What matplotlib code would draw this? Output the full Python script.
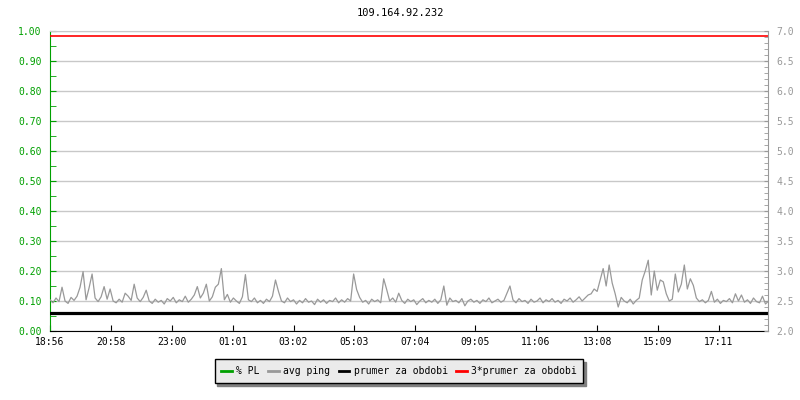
"""
ping graph for 109.164.92.232 - packet loss and avg ping over one day
"""

import matplotlib
matplotlib.use("Agg")
import matplotlib.pyplot as plt
from matplotlib.lines import Line2D
from matplotlib.ticker import MultipleLocator

# data
# --------------------------
host = "109.164.92.232"

# x tick labels (time of day), first one is the start of the window
time_labels = ["18:56", "20:58", "23:00", "01:01", "03:02", "05:03",
               "07:04", "09:05", "11:06", "13:08", "15:09", "17:11"]
window_minutes = 1433
step_minutes = 6

# avg ping [ms], one sample every 6 minutes
avg_ping = [
    2.52, 2.47, 2.55, 2.49, 2.73, 2.50, 2.46, 2.56, 2.51, 2.58,
    2.73, 2.99, 2.52, 2.72, 2.95, 2.55, 2.49, 2.57, 2.74, 2.53,
    2.70, 2.50, 2.47, 2.53, 2.48, 2.63, 2.58, 2.51, 2.78, 2.55,
    2.49, 2.56, 2.68, 2.50, 2.46, 2.53, 2.48, 2.51, 2.45, 2.54,
    2.50, 2.56, 2.47, 2.52, 2.49, 2.58, 2.48, 2.53, 2.60, 2.74,
    2.55, 2.63, 2.78, 2.50, 2.57, 2.73, 2.78, 3.04, 2.52, 2.61,
    2.48, 2.55, 2.50, 2.46, 2.57, 2.94, 2.52, 2.49, 2.55, 2.47,
    2.51, 2.46, 2.53, 2.49, 2.58, 2.85, 2.66, 2.50, 2.47, 2.55,
    2.49, 2.52, 2.45, 2.51, 2.47, 2.54, 2.48, 2.50, 2.44, 2.53,
    2.48, 2.52, 2.46, 2.51, 2.49, 2.55, 2.47, 2.52, 2.48, 2.54,
    2.50, 2.95, 2.69, 2.56, 2.48, 2.51, 2.45, 2.53, 2.49, 2.52,
    2.47, 2.87, 2.69, 2.50, 2.55, 2.48, 2.63, 2.51, 2.46, 2.53,
    2.49, 2.52, 2.44, 2.50, 2.54, 2.47, 2.51, 2.48, 2.53, 2.46,
    2.52, 2.75, 2.43, 2.55, 2.49, 2.51, 2.47, 2.54, 2.42, 2.50,
    2.53, 2.48, 2.51, 2.46, 2.52, 2.49, 2.55, 2.47, 2.50, 2.53,
    2.48, 2.51, 2.63, 2.75, 2.52, 2.47, 2.54, 2.49, 2.51, 2.46,
    2.53, 2.48, 2.50, 2.55, 2.47, 2.52, 2.49, 2.54, 2.48, 2.51,
    2.46, 2.53, 2.50, 2.55, 2.48, 2.52, 2.57, 2.50, 2.55, 2.60,
    2.62, 2.70, 2.66, 2.85, 3.04, 2.75, 3.10, 2.80, 2.62, 2.40,
    2.56, 2.50, 2.47, 2.53, 2.45, 2.51, 2.55, 2.85, 3.00, 3.18,
    2.60, 3.00, 2.68, 2.85, 2.82, 2.62, 2.50, 2.53, 2.95, 2.65,
    2.78, 3.10, 2.70, 2.87, 2.76, 2.55, 2.49, 2.52, 2.47, 2.51,
    2.66, 2.48, 2.53, 2.46, 2.51, 2.49, 2.54, 2.47, 2.62, 2.50,
    2.60, 2.48, 2.52, 2.46, 2.55, 2.49, 2.47, 2.58, 2.45, 2.50,
]

prumer = 2.305            # average over the period [ms]
prumer_3x = 3 * prumer

# colours
c_pl = "#00a000"
c_ping = "#999999"
c_grid = "#c8c8c8"

plt.rcParams["font.family"] = ["DejaVu Sans Mono"]
plt.rcParams["font.size"] = 7

# tick positions in minutes since the window start
# --------------------------
start_h, start_m = map(int, time_labels[0].split(":"))
tick_pos = []
for lab in time_labels:
    h, m = map(int, lab.split(":"))
    tick_pos.append(((h * 60 + m) - (start_h * 60 + start_m)) % 1440)

t = [i * step_minutes for i in range(len(avg_ping))]

# plotting
# --------------------------
fig = plt.figure(figsize=(8, 4), dpi=100)
ax = fig.add_axes([50 / 800, 69 / 400, 718 / 800, 300 / 400])
ax2 = ax.twinx()

# left axis - packet loss
ax.set_xlim(0, window_minutes)
ax.set_ylim(0, 1.0)
ax.yaxis.set_major_locator(MultipleLocator(0.1))
ax.yaxis.set_minor_locator(MultipleLocator(0.05))
ax.yaxis.set_major_formatter(plt.FuncFormatter(lambda v, p: f"{v:.2f}"))
ax.tick_params(axis="y", which="both", direction="in", colors=c_pl, labelcolor=c_pl, pad=6, length=4)
ax.set_xticks(tick_pos)
ax.set_xticklabels(time_labels)
ax.tick_params(axis="x", direction="in", length=4, colors="black", pad=4)
ax.grid(axis="y", color=c_grid, linewidth=1)
ax.set_axisbelow(True)

ax.spines["left"].set_color(c_pl)
ax.spines["bottom"].set_color("black")
ax.spines["top"].set_color(c_grid)
ax.spines["right"].set_visible(False)

# right axis - ping
ax2.set_ylim(2.0, 7.0)
ax2.yaxis.set_major_locator(MultipleLocator(0.5))
ax2.yaxis.set_minor_locator(MultipleLocator(0.1))
ax2.yaxis.set_major_formatter(plt.FuncFormatter(lambda v, p: f"{v:.1f}"))
ax2.tick_params(axis="y", which="both", direction="in", colors=c_ping, labelcolor=c_ping, pad=6, length=3)
for s in ["left", "bottom", "top"]:
    ax2.spines[s].set_visible(False)
ax2.spines["right"].set_color(c_ping)

ax2.plot(t, avg_ping, color=c_ping, linewidth=0.9)
ax2.axhline(prumer, color="black", linewidth=2.3)
ax2.axhline(prumer_3x, color="#ff0000", linewidth=1.2)

fig.text(0.5, 1 - 13 / 400, host, ha="center", va="center", fontsize=7.5, color="black")

# legend
handles = [Line2D([], [], color=c_pl, linewidth=2),
           Line2D([], [], color=c_ping, linewidth=2),
           Line2D([], [], color="black", linewidth=2),
           Line2D([], [], color="#ff0000", linewidth=2)]
labels = ["% PL", "avg ping", "prumer za obdobi", "3*prumer za obdobi"]
leg = fig.legend(handles, labels, loc="center", bbox_to_anchor=(399 / 800, 1 - 371 / 400),
                 ncol=4, frameon=True, fancybox=False, shadow={"color": "#808080", "alpha": 1},
                 edgecolor="black", facecolor="#ebebeb", framealpha=1,
                 handlelength=1.1, handletextpad=0.45, columnspacing=0.85,
                 borderpad=0.7, fontsize=7)
leg.get_frame().set_linewidth(1)

fig.savefig("out.png", dpi=100)
